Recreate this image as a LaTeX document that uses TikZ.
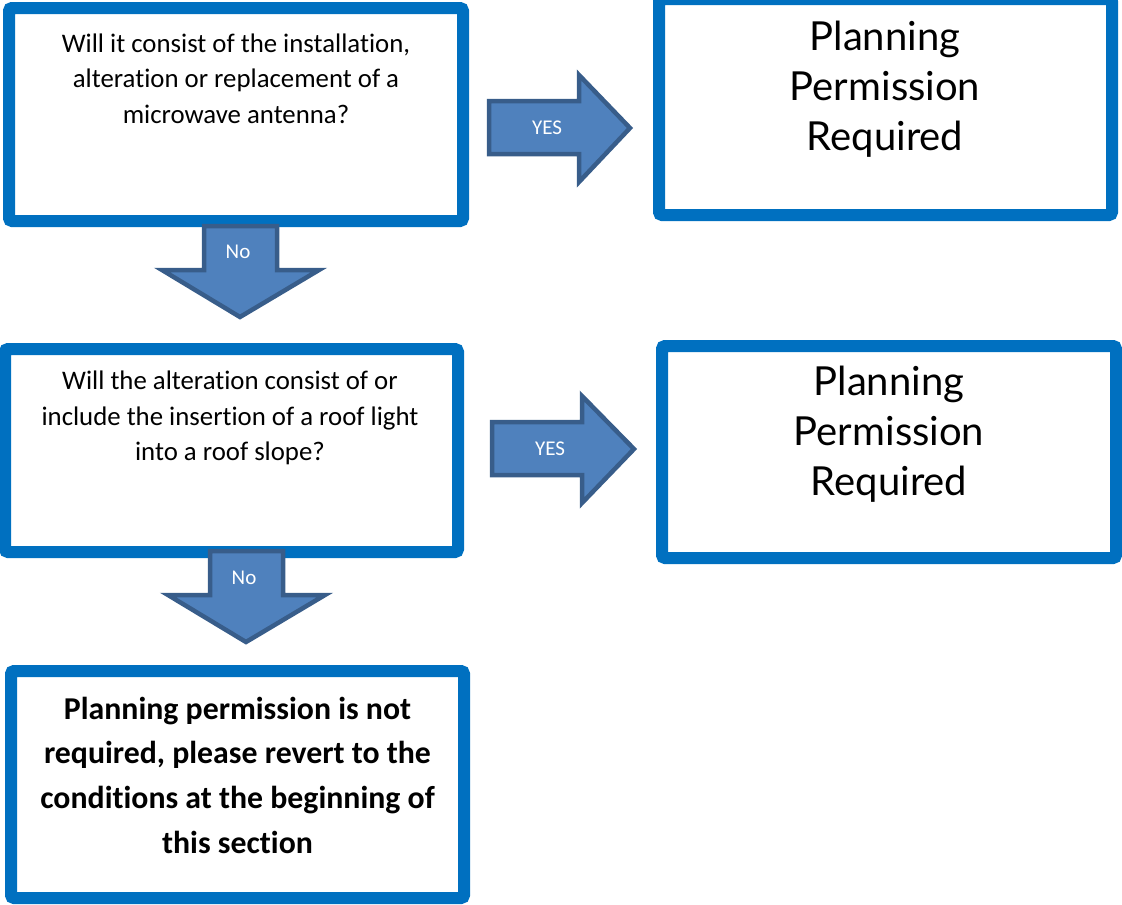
\documentclass[tikz,border=0pt]{standalone}
\usepackage{fontspec}
\setmainfont[Ligatures=NoCommon]{Carlito}
\newfontfamily\headfont{Lato}
\definecolor{boxblue}{HTML}{0070C0}
\definecolor{arrowfill}{HTML}{4F81BD}
\definecolor{arrowline}{HTML}{385D8A}
\begin{document}
\begin{tikzpicture}[x=1pt,y=-1pt,
  box/.style={draw=boxblue, line width=12pt, rounded corners=3pt, fill=white, inner sep=0pt},
  flowarrow/.style={draw=arrowline, fill=arrowfill, line width=4.5pt, line join=miter},
  question/.style={align=center, font=\fontsize{26.8}{35.5}\selectfont},
  outcome/.style={align=center, font=\headfont\fontsize{40}{50}\selectfont},
  finaltext/.style={align=center, font=\bfseries\fontsize{31.8}{44.7}\selectfont},
  arrowlabel/.style={text=white, font=\fontsize{21}{24}\selectfont}]
\useasboundingbox (0,0) rectangle (1122,905);

% boxes
\node[box, minimum width=454pt, minimum height=213pt] (q1) at (236,114.5) {};
\node[box, minimum width=453pt, minimum height=216pt] (r1) at (885.5,107) {};
\node[box, minimum width=453pt, minimum height=203pt] (q2) at (231.5,450.5) {};
\node[box, minimum width=454pt, minimum height=212pt] (r2) at (889,452) {};
\node[box, minimum width=453pt, minimum height=227pt] (end) at (237.5,784.5) {};

% texts
\node[question] (t1) at (236,78.5) {Will it consist of the installation,\\alteration or replacement of a\\microwave antenna?};
\node[outcome] (t2) at (885,89) {Planning\\Permission\\Required};
\node[question] (t3) at (230,418) {Will the alteration consist of or\\include the insertion of a roof light\\into a roof slope?};
\node[outcome] (t4) at (889,434) {Planning\\Permission\\Required};
\node[finaltext] (t5) at (237.5,775) {Planning permission is not\\required, please revert to the\\conditions at the beginning of\\this section};

% block arrows
\draw[flowarrow] (489,101) -- (579,101) -- (579,75) -- (630,128) -- (579,182) -- (579,154) -- (489,154) -- cycle;
\node[arrowlabel] (yes1) at (547,128) {YES};
\draw[flowarrow] (492,422) -- (582,422) -- (582,396) -- (634,449) -- (582,503) -- (582,475) -- (492,475) -- cycle;
\node[arrowlabel] (yes2) at (550,449) {YES};
\draw[flowarrow] (204,226) -- (277,226) -- (277,270) -- (319,270) -- (240,317) -- (162,270) -- (204,270) -- cycle;
\node[arrowlabel] (no1) at (238,252) {No};
\draw[flowarrow] (210,551) -- (283,551) -- (283,595) -- (325,595) -- (246,642) -- (168,595) -- (210,595) -- cycle;
\node[arrowlabel] (no2) at (244,578) {No};
\end{tikzpicture}
\end{document}
